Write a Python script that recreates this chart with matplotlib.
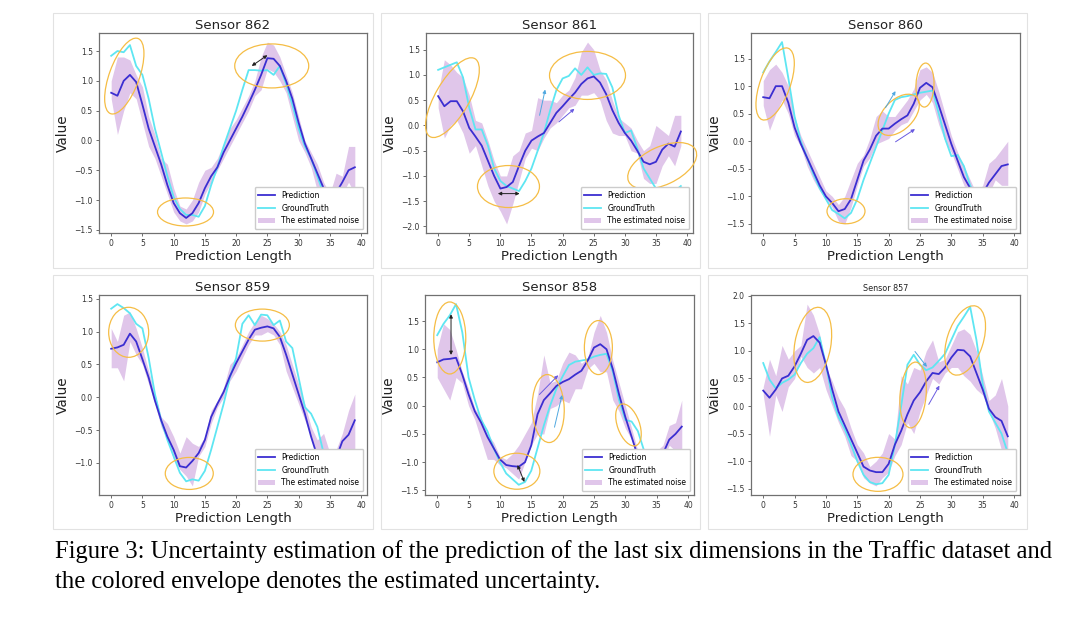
import numpy as np
import matplotlib
matplotlib.use("Agg")
import matplotlib.pyplot as plt
from matplotlib.patches import Ellipse, Rectangle
from matplotlib import transforms
from matplotlib.ticker import MultipleLocator

steps = np.arange(40)

# Sensor 862
pred_862 = [0.8, 0.75, 1.0, 1.1, 0.98, 0.6, 0.2, -0.1, -0.4, -0.75, -1.05, -1.22, -1.3, -1.22, -1.05, -0.8, -0.6, -0.45, -0.2, 0.0,
            0.2, 0.4, 0.62, 0.85, 1.1, 1.38, 1.37, 1.25, 1.0, 0.7, 0.3, -0.05, -0.3, -0.55, -0.8, -1.0, -0.88, -0.7, -0.5, -0.45]
gt_862 = [1.42, 1.5, 1.48, 1.6, 1.25, 1.1, 0.7, 0.2, -0.2, -0.6, -0.95, -1.15, -1.25, -1.25, -1.28, -1.1, -0.75, -0.45, -0.1, 0.2,
          0.5, 0.85, 1.18, 1.18, 1.17, 1.18, 1.1, 1.25, 0.95, 0.6, 0.2, -0.1, -0.3, -0.6, -0.9, -1.05, -1.15, -1.25, -1.32, -1.28]
lo_862 = [0.7, 0.1, 0.5, 0.8, 0.7, 0.3, -0.1, -0.3, -0.6, -0.9, -1.2, -1.35, -1.4, -1.35, -1.2, -0.9, -0.7, -0.5, -0.3, -0.1,
          0.1, 0.3, 0.5, 0.75, 0.85, 1.2, 1.15, 1.0, 0.8, 0.4, 0.0, -0.2, -0.45, -0.85, -1.05, -1.05, -1.0, -0.9, -0.7, -0.9]
hi_862 = [1.0, 1.4, 1.4, 1.35, 1.1, 0.9, 0.4, 0.1, -0.3, -0.4, -0.8, -1.1, -1.15, -1.0, -0.7, -0.5, -0.45, -0.3, -0.05, 0.2,
          0.35, 0.55, 0.75, 1.0, 1.4, 1.65, 1.6, 1.4, 1.1, 0.8, 0.4, 0.0, -0.2, -0.4, -0.7, -0.9, -0.55, -0.6, -0.1, -0.1]

# Sensor 861
pred_861 = [0.58, 0.38, 0.48, 0.48, 0.28, -0.05, -0.22, -0.4, -0.7, -1.0, -1.25, -1.22, -1.12, -0.8, -0.5, -0.3, -0.22, -0.15, 0.05, 0.25,
            0.38, 0.52, 0.65, 0.82, 0.93, 0.97, 0.85, 0.62, 0.3, 0.05, -0.15, -0.3, -0.5, -0.72, -0.77, -0.72, -0.48, -0.36, -0.42, -0.12]
gt_861 = [1.1, 1.15, 1.2, 1.25, 0.95, 0.35, -0.08, -0.08, -0.4, -0.85, -1.1, -1.2, -1.25, -1.3, -1.1, -0.85, -0.5, -0.15, 0.3, 0.7,
          0.93, 0.98, 1.13, 1.0, 1.15, 1.0, 1.03, 1.02, 0.75, 0.2, -0.15, -0.1, -0.45, -0.85, -1.05, -1.25, -1.33, -1.35, -1.3, -1.2]
lo_861 = [0.35, -0.25, 0.0, 0.1, -0.15, -0.55, -0.4, -0.8, -1.2, -1.5, -1.7, -1.95, -1.55, -1.1, -0.65, -0.45, -0.5, -0.25, -0.05, 0.05,
          0.2, 0.35, 0.4, 0.6, 0.6, 0.65, 0.5, 0.1, -0.15, -0.2, -0.2, -0.5, -0.55, -1.05, -1.15, -1.15, -0.8, -0.6, -0.8, -0.4]
hi_861 = [0.65, 1.3, 1.2, 1.05, 0.95, 0.6, 0.1, 0.05, -0.3, -0.7, -1.0, -1.0, -0.6, -0.5, -0.15, -0.1, 0.55, 0.5, 0.5, 0.45,
          0.6, 0.7, 0.95, 1.45, 1.65, 1.5, 1.1, 0.9, 0.5, 0.15, 0.05, -0.05, -0.3, -0.5, -0.4, 0.0, -0.1, -0.2, 0.2, 0.2]

# Sensor 860
pred_860 = [0.8, 0.78, 1.0, 1.0, 0.7, 0.25, -0.05, -0.3, -0.55, -0.8, -1.0, -1.12, -1.27, -1.23, -1.05, -0.7, -0.35, -0.15, 0.1, 0.23,
            0.23, 0.32, 0.4, 0.47, 0.68, 0.97, 1.06, 0.98, 0.65, 0.3, -0.05, -0.35, -0.65, -0.85, -0.98, -0.95, -0.75, -0.6, -0.45, -0.42]
gt_860 = [1.25, 1.45, 1.62, 1.8, 1.15, 0.45, 0.0, -0.3, -0.6, -0.85, -1.05, -1.25, -1.32, -1.4, -1.3, -1.05, -0.7, -0.4, -0.1, 0.2,
          0.5, 0.75, 0.8, 0.82, 0.85, 0.88, 0.9, 0.92, 0.5, 0.05, -0.27, -0.25, -0.45, -0.8, -1.0, -1.15, -1.3, -1.4, -1.4, -1.35]
lo_860 = [0.65, 0.2, 0.5, 0.75, 0.5, 0.1, -0.1, -0.45, -0.7, -0.9, -1.05, -1.2, -1.45, -1.5, -1.2, -0.8, -0.45, -0.3, -0.05, 0.0,
          0.05, 0.2, 0.3, 0.35, 0.55, 0.75, 0.85, 0.7, 0.3, 0.0, -0.2, -0.5, -0.8, -1.0, -1.0, -1.05, -0.95, -0.7, -0.8, -0.8]
hi_860 = [1.1, 1.3, 1.4, 1.25, 1.0, 0.45, 0.1, -0.15, -0.4, -0.65, -0.9, -1.0, -1.15, -1.0, -0.7, -0.4, -0.25, 0.05, 0.45, 0.55,
          0.45, 0.45, 0.6, 0.75, 0.95, 1.3, 1.35, 1.25, 0.9, 0.5, 0.1, -0.2, -0.45, -0.7, -0.95, -0.8, -0.4, -0.3, -0.15, 0.0]

# Sensor 859
pred_859 = [0.74, 0.76, 0.8, 0.97, 0.85, 0.58, 0.3, -0.05, -0.35, -0.6, -0.8, -1.05, -1.07, -0.97, -0.85, -0.65, -0.3, -0.1, 0.08, 0.32,
            0.52, 0.7, 0.88, 1.03, 1.06, 1.08, 1.05, 0.92, 0.65, 0.35, 0.05, -0.25, -0.6, -0.9, -1.02, -1.07, -0.93, -0.67, -0.57, -0.35]
gt_859 = [1.35, 1.42, 1.36, 1.28, 1.12, 1.05, 0.6, 0.05, -0.35, -0.65, -0.9, -1.15, -1.28, -1.25, -1.27, -1.12, -0.8, -0.45, -0.1, 0.3,
          0.6, 1.12, 1.25, 1.1, 1.26, 1.25, 1.1, 1.17, 0.85, 0.75, 0.3, -0.15, -0.25, -0.45, -0.85, -1.05, -1.25, -1.35, -1.35, -1.35]
lo_859 = [0.45, 0.45, 0.25, 0.85, 0.65, 0.5, 0.2, -0.1, -0.45, -0.65, -0.95, -1.1, -1.2, -1.35, -0.9, -0.75, -0.4, -0.15, 0.0, 0.25,
          0.4, 0.6, 0.8, 0.95, 0.95, 1.0, 0.95, 0.8, 0.4, 0.15, -0.1, -0.35, -0.6, -0.9, -1.0, -1.1, -1.25, -0.9, -0.9, -0.8]
hi_859 = [1.05, 0.85, 1.25, 1.3, 1.05, 0.75, 0.4, 0.05, -0.3, -0.4, -0.6, -0.85, -0.6, -0.7, -0.75, -0.6, -0.2, -0.05, 0.15, 0.5,
          0.6, 0.8, 1.0, 1.15, 1.25, 1.2, 1.12, 1.0, 0.8, 0.5, 0.2, -0.1, -0.45, -0.65, -0.55, -0.85, -0.8, -0.55, -0.2, 0.05]

# Sensor 858
pred_858 = [0.77, 0.82, 0.83, 0.85, 0.55, 0.2, -0.1, -0.3, -0.55, -0.75, -0.95, -1.05, -1.07, -1.08, -1.0, -0.7, -0.15, 0.1, 0.22, 0.35,
            0.42, 0.47, 0.55, 0.62, 0.8, 1.03, 1.09, 1.0, 0.65, 0.2, -0.2, -0.55, -0.9, -1.05, -1.05, -1.05, -0.85, -0.6, -0.5, -0.37]
gt_858 = [1.25, 1.45, 1.6, 1.8, 1.3, 0.5, 0.1, -0.25, -0.45, -0.75, -1.0, -1.2, -1.3, -1.4, -1.35, -1.15, -0.75, -0.35, 0.0, 0.3,
          0.52, 0.72, 0.78, 0.8, 0.82, 0.87, 0.9, 0.92, 0.6, 0.1, -0.25, -0.28, -0.45, -0.8, -1.05, -1.2, -1.3, -1.4, -1.42, -1.42]
lo_858 = [0.5, 0.3, 0.1, 0.5, 0.4, 0.0, -0.25, -0.6, -0.95, -0.95, -1.05, -1.1, -1.2, -1.3, -1.0, -0.7, -0.5, -0.5, -0.05, 0.0,
          0.1, 0.05, 0.3, 0.3, 0.65, 0.75, 0.6, 0.6, 0.1, -0.1, -0.4, -0.6, -1.0, -1.0, -1.0, -1.0, -0.95, -0.7, -0.8, -0.8]
hi_858 = [1.0, 1.45, 1.35, 1.0, 0.6, 0.3, -0.05, -0.2, -0.5, -0.65, -0.9, -0.95, -0.85, -0.7, -0.5, -0.3, 0.2, 0.9, 0.4, 0.45,
          0.75, 0.95, 0.9, 0.75, 0.85, 1.3, 1.6, 1.3, 0.8, 0.4, 0.0, -0.4, -0.8, -0.8, -0.85, -0.8, -0.7, -0.35, -0.3, 0.1]

# Sensor 857
pred_857 = [0.28, 0.15, 0.3, 0.5, 0.55, 0.72, 0.95, 1.2, 1.27, 1.15, 0.75, 0.3, -0.1, -0.35, -0.6, -0.85, -1.1, -1.17, -1.2, -1.2,
            -1.05, -0.7, -0.45, -0.15, 0.1, 0.25, 0.45, 0.6, 0.58, 0.7, 0.88, 1.02, 1.01, 0.9, 0.6, 0.3, -0.05, -0.2, -0.27, -0.55]
gt_857 = [0.78, 0.48, 0.32, 0.42, 0.48, 0.57, 0.78, 0.95, 1.05, 1.25, 0.75, 0.15, -0.2, -0.42, -0.7, -1.0, -1.25, -1.38, -1.42, -1.4,
          -1.25, -0.7, 0.0, 0.75, 0.93, 0.75, 0.65, 0.7, 0.82, 0.95, 1.2, 1.45, 1.62, 1.8, 1.2, 0.4, -0.1, -0.3, -0.5, -0.85]
lo_857 = [0.2, -0.55, 0.2, -0.1, 0.35, 0.5, 0.9, 0.7, 0.6, 0.7, 0.3, 0.0, -0.3, -0.55, -0.9, -1.0, -1.3, -1.4, -1.45, -1.3,
          -1.2, -0.9, -0.7, -0.3, -0.5, -0.1, 0.2, 0.5, 0.4, 0.6, 0.7, 0.7, 0.55, 0.45, 0.3, 0.2, -0.1, -0.4, -0.8, -1.05]
hi_857 = [0.35, 0.85, 0.55, 1.1, 0.85, 1.0, 1.1, 1.85, 1.65, 1.3, 0.7, 0.45, 0.15, -0.05, -0.4, -0.7, -0.85, -1.1, -1.0, -0.85,
          -0.5, -0.6, 0.55, 0.4, 0.7, 0.65, 1.0, 1.2, 0.8, 0.85, 1.1, 1.35, 1.4, 1.3, 1.0, 0.55, 0.1, 0.2, 0.5, 0.0]

# highlight ellipses: centre (data), semi-axes in pixels, angle in degrees
ell_862 = [(2.1, 1.08, 40, 15, 70), (25.7, 1.25, 37, 22, 0), (11.9, -1.2, 28, 14, 0)]
ell_861 = [(2.3, 0.55, 45, 17, 60), (11.3, -1.21, 31, 21, 0), (24.0, 0.99, 38, 24, 0), (36.0, -0.8, 37, 19, 25)]
ell_860 = [(1.9, 1.04, 38, 15, 70), (21.6, 0.48, 25, 15, 45), (25.8, 1.02, 22, 9, 88), (13.2, -1.27, 19, 12.5, 0)]
ell_859 = [(2.8, 0.99, 20, 25, 0), (12.5, -1.16, 24, 16, 0), (24.2, 1.1, 27, 16, 0)]
ell_858 = [(2.0, 1.2, 36, 16, 90), (17.7, -0.05, 34, 16, 92), (12.7, -1.16, 23, 18, 0), (25.7, 1.03, 27, 14, 90),
           (30.5, -0.34, 22, 11, 110)]
ell_857 = [(7.9, 1.11, 38, 18, 80), (18.3, -1.24, 25, 17, 0), (23.9, 0.2, 33, 13, 85), (32.2, 1.19, 36, 18, 72)]

# arrows: start, end, style, colour
arr_862 = [((22.5, 1.25), (25.0, 1.43), '<|-|>', 'k')]
arr_861 = [((9.6, -1.35), (13.1, -1.35), '<|-|>', 'k'), ((16.3, 0.2), (17.2, 0.71), '-|>', 'light'),
           ((19.4, 0.07), (21.9, 0.33), '-|>', 'purple')]
arr_860 = [((19.5, 0.61), (21.1, 0.91), '-|>', 'light'), ((21.1, -0.01), (24.2, 0.22), '-|>', 'purple')]
arr_859 = []
arr_858 = [((2.2, 0.9), (2.2, 1.62), '<|-|>', 'k'), ((12.8, -1.05), (13.9, -1.35), '<|-|>', 'k'),
           ((16.3, 0.2), (19.3, 0.54), '-|>', 'purple'), ((18.7, -0.38), (19.9, 0.19), '-|>', 'light')]
arr_857 = [((24.2, 0.99), (26.1, 0.71), '-|>', 'light'), ((26.4, 0.03), (28.1, 0.37), '-|>', 'purple')]

sensors = ['Sensor 862', 'Sensor 861', 'Sensor 860', 'Sensor 859', 'Sensor 858', 'Sensor 857']
preds = [pred_862, pred_861, pred_860, pred_859, pred_858, pred_857]
gts = [gt_862, gt_861, gt_860, gt_859, gt_858, gt_857]
los = [lo_862, lo_861, lo_860, lo_859, lo_858, lo_857]
his = [hi_862, hi_861, hi_860, hi_859, hi_858, hi_857]
ells = [ell_862, ell_861, ell_860, ell_859, ell_858, ell_857]
arrs = [arr_862, arr_861, arr_860, arr_859, arr_858, arr_857]

arrow_colors = {'k': '#222222', 'light': '#4fa8e0', 'purple': '#6a5be0'}

W, H = 1080, 628
fig = plt.figure(figsize=(W / 100, H / 100), dpi=100)
fig.patch.set_facecolor('white')

# pixel boxes: panel frame (l, t, r, b) and axes (l, t, r, b)
frames = [(53, 13, 373, 268), (381, 13, 700, 268), (708, 13, 1027, 268),
          (53, 275, 373, 529), (381, 275, 700, 529), (708, 275, 1027, 529)]
axboxes = [(99, 33, 367, 233), (426, 33, 693, 233), (751, 33, 1020, 233),
           (99, 295, 367, 495), (425, 295, 694, 495), (751, 295, 1020, 495)]

for i in range(6):
    fl, ft, fr, fb = frames[i]
    fig.add_artist(Rectangle((fl / W, 1 - fb / H), (fr - fl) / W, (fb - ft) / H,
                             transform=fig.transFigure, fill=False, edgecolor='#e2e2e2', lw=0.8))
    l, t, r, b = axboxes[i]
    ax = fig.add_axes([l / W, 1 - b / H, (r - l) / W, (b - t) / H])

    ax.fill_between(steps, los[i], his[i], color='#e0c6ea', lw=0, label='The estimated noise', zorder=1)
    ax.plot(steps, preds[i], color='#3b2ed1', lw=1.3, label='Prediction', zorder=3)
    ax.plot(steps, gts[i], color='#5ee6f2', lw=1.3, label='GroundTruth', zorder=2)

    ax.xaxis.set_major_locator(MultipleLocator(5))
    ax.yaxis.set_major_locator(MultipleLocator(0.5))
    ax.set_xlim(ax.get_xlim())
    ax.set_ylim(ax.get_ylim())

    for sp in ax.spines.values():
        sp.set_color('#707070')
        sp.set_linewidth(0.9)
    ax.tick_params(labelsize=5.5, length=2.5, width=0.6, color='#555555', labelcolor='#333333', pad=2)

    if i == 5:
        ax.set_title(sensors[i], fontsize=5.8, pad=3, color='#222222')
    else:
        ax.set_title(sensors[i], fontsize=9.5, pad=3, color='#222222')
    ax.set_xlabel('Prediction Length', fontsize=9.5, labelpad=1, color='#222222')
    ax.set_ylabel('Value', fontsize=9.8, labelpad=3, color='#222222')

    handles, labels = ax.get_legend_handles_labels()
    order = [1, 2, 0]
    ax.legend([handles[k] for k in order], [labels[k] for k in order], loc='lower right',
              fontsize=5.5, handlelength=2.2, framealpha=1, edgecolor='#cccccc', borderpad=0.5)

    for cx, cy, a, bb, ang in ells[i]:
        tr = transforms.Affine2D() + transforms.ScaledTranslation(cx, cy, ax.transData)
        ax.add_patch(Ellipse((0, 0), 2 * a, 2 * bb, angle=ang, transform=tr, fill=False,
                             edgecolor='#f5bd45', lw=0.9, clip_on=False, zorder=5))

    for start, end, style, col in arrs[i]:
        ax.annotate('', xy=end, xytext=start,
                    arrowprops=dict(arrowstyle=style, color=arrow_colors[col], lw=0.7,
                                    mutation_scale=5, shrinkA=0, shrinkB=0), zorder=6)

cap1 = 'Figure 3: Uncertainty estimation of the prediction of the last six dimensions in the Traffic dataset and'
cap2 = 'the colored envelope denotes the estimated uncertainty.'
fig.text(55 / W, 1 - 558 / H, cap1, fontsize=17.75, family='Liberation Serif', va='baseline', ha='left')
fig.text(55 / W, 1 - 588 / H, cap2, fontsize=17.75, family='Liberation Serif', va='baseline', ha='left')

fig.savefig('out.png', dpi=100, facecolor='white')
